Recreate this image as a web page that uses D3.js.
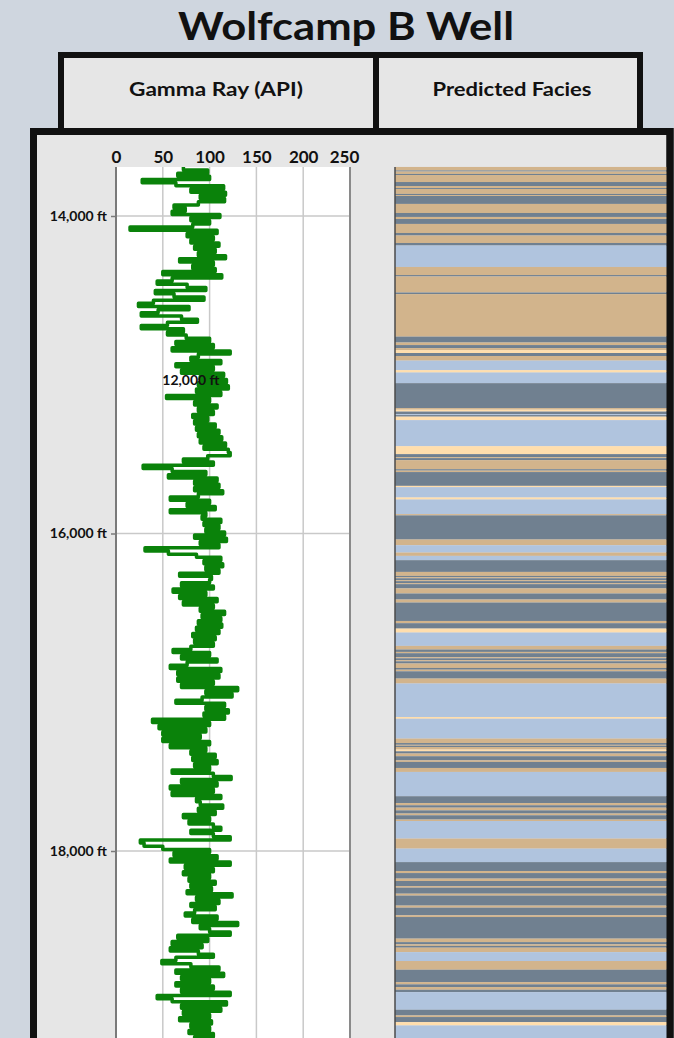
<!DOCTYPE html>
<html>
<head>
<meta charset="utf-8">
<script src="https://cdn.jsdelivr.net/npm/d3@7"></script>
<style>
  body { margin: 0; background: #cfd6df; }
  svg { display: block; }
  text { font-family: Lato, "Open Sans", sans-serif; fill: #111; }
</style>
</head>
<body>
<div id="chart"></div>
<script>
// ---- data ----
const title = "Wolfcamp B Well";
const trackTitles = ["Gamma Ray (API)", "Predicted Facies"];
const grTicks = [0, 50, 100, 150, 200, 250];
const depthTicks = [14000, 16000, 18000];
const strayLabel = { text: "12,000 ft", depth: 15065, gr: 80 };
const depthRange = [13691, 19181];

// gamma ray log, one reading every 20 ft starting at 13,700 ft
const gammaStart = 13700, gammaStep = 20;
const gammaRay = [
  72, 98, 66, 100, 28, 64, 115, 80, 117, 90,
  116, 88, 62, 74, 60, 111, 80, 100, 82, 15,
  108, 76, 104, 80, 110, 84, 106, 88, 117, 68,
  104, 82, 106, 50, 113, 60, 44, 76, 96, 42,
  62, 94, 40, 24, 78, 45, 27, 70, 87, 55,
  27, 72, 55, 75, 100, 64, 104, 60, 122, 88,
  80, 112, 64, 104, 70, 115, 90, 118, 88, 120,
  86, 112, 54, 100, 84, 108, 88, 104, 82, 98,
  84, 106, 86, 110, 88, 113, 90, 117, 94, 120,
  122, 98, 72, 104, 29, 60, 96, 56, 108, 84,
  110, 84, 114, 88, 58, 100, 76, 106, 58, 96,
  92, 112, 94, 110, 96, 116, 84, 118, 90, 110,
  31, 56, 86, 112, 94, 114, 96, 110, 68, 102,
  100, 70, 104, 61, 96, 68, 108, 72, 104, 90,
  116, 92, 112, 88, 113, 86, 110, 82, 106, 84,
  104, 80, 61, 100, 70, 108, 76, 58, 112, 66,
  110, 66, 104, 70, 130, 96, 124, 92, 64, 116,
  96, 120, 94, 116, 39, 100, 46, 96, 50, 90,
  50, 100, 58, 96, 80, 106, 82, 108, 84, 100,
  60, 104, 123, 70, 108, 58, 104, 60, 112, 86,
  90, 114, 88, 106, 72, 100, 78, 104, 112, 80,
  104, 122, 26, 30, 50, 100, 62, 108, 58, 122,
  74, 104, 72, 100, 78, 106, 80, 102, 76, 124,
  86, 110, 80, 106, 84, 74, 108, 82, 130, 90,
  100, 122, 66, 98, 60, 92, 58, 88, 104, 64,
  49, 80, 110, 64, 115, 70, 100, 64, 104, 70,
  122, 44, 60, 118, 70, 112, 72, 100, 68, 102,
  80, 100, 78, 104, 84
];

// facies intervals: top depth (ft) and class
const faciesTop = [
  13691, 13713, 13720, 13735, 13742, 13786, 13811, 13824, 13830, 13861,
  13868, 13874, 13924, 13981, 14006, 14019, 14050, 14107, 14123, 14170,
  14186, 14321, 14372, 14381, 14482, 14492, 14760, 14797, 14813, 14832,
  14845, 14863, 14882, 14911, 14971, 14986, 15053, 15210, 15220, 15232,
  15248, 15254, 15264, 15286, 15450, 15500, 15519, 15525, 15538, 15595,
  15604, 15613, 15700, 15708, 15773, 15786, 15878, 15886, 16038, 16074,
  16120, 16141, 16168, 16242, 16267, 16275, 16282, 16294, 16300, 16313,
  16319, 16346, 16378, 16416, 16435, 16551, 16565, 16599, 16624, 16708,
  16731, 16746, 16754, 16779, 16786, 16798, 16805, 16819, 16847, 16858,
  16868, 16914, 16945, 17156, 17167, 17292, 17320, 17331, 17337, 17345,
  17361, 17372, 17386, 17403, 17429, 17439, 17477, 17502, 17655, 17698,
  17712, 17727, 17744, 17764, 17775, 17802, 17811, 17922, 17985, 18070,
  18126, 18139, 18174, 18189, 18221, 18231, 18269, 18281, 18344, 18357,
  18405, 18416, 18552, 18574, 18588, 18598, 18609, 18637, 18693, 18748,
  18826, 18840, 18857, 18874, 18889, 19000, 19036, 19046, 19078, 19099
];
const faciesType = [
  "T","S","T","S","T","S","T","S","T","S",
  "T","S","T","S","T","S","T","S","T","S",
  "B","T","S","T","S","T","S","T","S","T",
  "N","S","T","B","N","B","S","T","N","S",
  "B","S","N","B","N","S","T","S","T","S",
  "T","S","N","B","N","B","T","S","T","B",
  "T","B","S","T","S","T","S","T","S","T",
  "S","T","S","T","S","T","S","N","B","T",
  "S","T","S","T","S","T","S","T","S","T",
  "S","T","B","N","B","T","S","T","S","T",
  "N","S","T","S","T","S","T","B","S","T",
  "S","T","S","T","S","T","B","T","B","S",
  "T","S","T","S","T","S","T","S","T","S",
  "T","S","T","S","T","S","T","B","T","S",
  "T","S","T","S","B","S","T","S","N","B"
];
const faciesClasses = ["T", "S", "B", "N"];
const faciesColors = ["#d2b48c", "#708090", "#b0c4de", "#ffdead"];

// ---- layout ----
const W = 674, H = 1038;
const plot = { left: 116, right: 350, top: 167, bottom: H };
const facies = { left: 395, right: 667 };

const svg = d3.select("#chart").append("svg")
  .attr("width", W)
  .attr("height", H);

// title
svg.append("text")
  .attr("x", 346)
  .attr("y", 40)
  .attr("text-anchor", "middle")
  .attr("font-size", 39)
  .attr("font-weight", "bold")
  .attr("textLength", 336)
  .attr("lengthAdjust", "spacingAndGlyphs")
  .text(title);

// header box
svg.append("rect")
  .attr("x", 61).attr("y", 55)
  .attr("width", 579).attr("height", 80)
  .attr("fill", "#e6e6e6")
  .attr("stroke", "#111").attr("stroke-width", 6);
svg.append("line")
  .attr("x1", 376).attr("x2", 376)
  .attr("y1", 55).attr("y2", 131)
  .attr("stroke", "#111").attr("stroke-width", 6);

const headerX = [216, 512];
const headerW = [174, 159];
svg.selectAll(".track-title")
  .data(trackTitles)
  .enter()
  .append("text")
    .attr("class", "track-title")
    .attr("x", (d, i) => headerX[i])
    .attr("y", 96)
    .attr("text-anchor", "middle")
    .attr("font-size", 19)
    .attr("font-weight", "bold")
    .attr("textLength", (d, i) => headerW[i])
    .attr("lengthAdjust", "spacingAndGlyphs")
    .attr("fill", "#222")
    .text(d => d);

// main box
svg.append("rect")
  .attr("x", 33.5).attr("y", 131.5)
  .attr("width", 636.5).attr("height", 950)
  .attr("fill", "#e6e6e6")
  .attr("stroke", "#111").attr("stroke-width", 7);

// scales
const x = d3.scaleLinear().domain([0, 250]).range([plot.left, plot.right]);
const y = d3.scaleLinear().domain([14000, 18000]).range([216, 851]);
const color = d3.scaleOrdinal().domain(faciesClasses).range(faciesColors);

// gamma ray track
svg.append("rect")
  .attr("x", plot.left).attr("y", plot.top)
  .attr("width", plot.right - plot.left)
  .attr("height", plot.bottom - plot.top)
  .attr("fill", "#fff");

svg.append("defs").append("clipPath")
  .attr("id", "grclip")
  .append("rect")
  .attr("x", plot.left).attr("y", plot.top)
  .attr("width", plot.right - plot.left)
  .attr("height", plot.bottom - plot.top);

// vertical grid
svg.append("g")
  .selectAll("line")
  .data(grTicks.slice(1, -1))
  .enter()
  .append("line")
    .attr("x1", d => x(d)).attr("x2", d => x(d))
    .attr("y1", plot.top).attr("y2", plot.bottom)
    .attr("stroke", "#c9c9c9").attr("stroke-width", 1.5);

// horizontal grid
svg.append("g")
  .selectAll("line")
  .data(depthTicks)
  .enter()
  .append("line")
    .attr("x1", plot.left).attr("x2", plot.right)
    .attr("y1", d => y(d)).attr("y2", d => y(d))
    .attr("stroke", "#c9c9c9").attr("stroke-width", 1.5);

// gamma curve, drawn as a step trace along depth
const grData = [];
gammaRay.forEach((v, i) => {
  const d = gammaStart + i * gammaStep;
  grData.push({ depth: d - gammaStep / 2, gr: v });
  grData.push({ depth: d + gammaStep / 2, gr: v });
});
const line = d3.line()
  .x(d => x(d.gr))
  .y(d => y(d.depth));

svg.append("path")
  .datum(grData)
  .attr("clip-path", "url(#grclip)")
  .attr("fill", "none")
  .attr("stroke", "#0a820a")
  .attr("stroke-width", 3.5)
  .attr("stroke-linejoin", "round")
  .attr("d", line);

// track borders
svg.append("line")
  .attr("x1", plot.left).attr("x2", plot.left)
  .attr("y1", plot.top).attr("y2", plot.bottom)
  .attr("stroke", "#7a7a7a").attr("stroke-width", 2);
svg.append("line")
  .attr("x1", plot.right).attr("x2", plot.right)
  .attr("y1", plot.top).attr("y2", plot.bottom)
  .attr("stroke", "#8a8a8a").attr("stroke-width", 2);

// top axis labels
const xAxis = d3.axisTop(x).tickValues(grTicks).tickSize(0).tickPadding(4);
const xAxisGroup = svg.append("g")
  .attr("transform", `translate(0,${plot.top})`)
  .call(xAxis);
xAxisGroup.select(".domain").remove();
xAxisGroup.selectAll("text")
  .attr("font-family", "Lato, sans-serif")
  .attr("font-size", 17)
  .attr("font-weight", "bold")
  .attr("fill", "#111")
  .attr("dx", d => d === 250 ? -6 : 0);

// depth axis
const yAxis = d3.axisLeft(y)
  .tickValues(depthTicks)
  .tickSize(5)
  .tickPadding(4)
  .tickFormat(d => d3.format(",")(d) + " ft");
const yAxisGroup = svg.append("g")
  .attr("transform", `translate(${plot.left},0)`)
  .call(yAxis);
yAxisGroup.select(".domain").remove();
yAxisGroup.selectAll("line").attr("stroke", "#7a7a7a").attr("stroke-width", 1.5);
yAxisGroup.selectAll("text")
  .attr("font-family", "Lato, sans-serif")
  .attr("font-size", 14)
  .attr("font-weight", "bold")
  .attr("fill", "#111");

// stray depth label inside the track
svg.append("text")
  .attr("x", x(strayLabel.gr))
  .attr("y", y(strayLabel.depth))
  .attr("text-anchor", "middle")
  .attr("font-size", 14)
  .attr("font-weight", "bold")
  .text(strayLabel.text);

// facies track
const faciesData = faciesTop.map((d, i) => ({
  top: d,
  base: i < faciesTop.length - 1 ? faciesTop[i + 1] : depthRange[1],
  type: faciesType[i]
}));

svg.append("g")
  .selectAll("rect")
  .data(faciesData)
  .enter()
  .append("rect")
    .attr("x", facies.left)
    .attr("width", facies.right - facies.left)
    .attr("y", d => y(d.top))
    .attr("height", d => y(d.base) - y(d.top))
    .attr("fill", d => color(d.type));

svg.append("line")
  .attr("x1", facies.left).attr("x2", facies.left)
  .attr("y1", y(depthRange[0])).attr("y2", H)
  .attr("stroke", "#4a4a4a").attr("stroke-width", 1.5);

// redraw right border over the facies strip
svg.append("line")
  .attr("x1", 670).attr("x2", 670)
  .attr("y1", 128).attr("y2", H)
  .attr("stroke", "#111").attr("stroke-width", 7);
</script>
</body>
</html>
